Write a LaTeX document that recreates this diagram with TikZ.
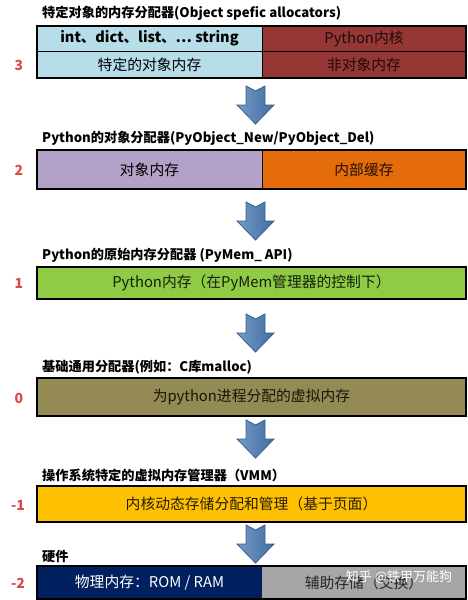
\documentclass[tikz,border=0pt]{standalone}
\usepackage{fontspec}
\setmainfont{Noto Sans CJK SC}
\definecolor{lvlred}{RGB}{222,72,72}
\definecolor{lblue}{RGB}{183,221,232}
\definecolor{dred}{RGB}{149,55,53}
\definecolor{lpurple}{RGB}{179,162,199}
\definecolor{orng}{RGB}{228,108,10}
\definecolor{lgreen}{RGB}{143,203,69}
\definecolor{olive}{RGB}{148,138,84}
\definecolor{amber}{RGB}{255,192,0}
\definecolor{navy}{RGB}{0,32,96}
\definecolor{gry}{RGB}{166,166,166}
\definecolor{arrblue}{RGB}{79,129,189}
\definecolor{arredge}{RGB}{56,93,138}
\begin{document}
\begin{tikzpicture}[x=1pt,y=-1pt,
  title/.style={anchor=west,inner sep=0pt,font=\bfseries\fontsize{13.2}{15}\selectfont},
  cell/.style={inner sep=0pt,font=\fontsize{14.8}{17}\selectfont},
  lvl/.style={inner sep=0pt,text=lvlred,font=\bfseries\fontsize{14}{16}\selectfont},
  frame/.style={draw=black,line width=2pt},
  divider/.style={draw=black,line width=1pt},
  downarrow/.pic={
    \path[left color=arrblue!80!white,right color=arrblue!85!black,draw=arredge,line width=0.8pt,line join=miter]
      (-9.5,0) -- (0,5) -- (9.5,0) -- (9.5,19) -- (18.5,19) -- (0,38) -- (-18.5,19) -- (-9.5,19) -- cycle;
  }]
\useasboundingbox (0,0) rectangle (467,600);

% ---- level 3
\node[title] (t3) at (42,13) {特定对象的内存分配器(Object spefic allocators)};
\fill[lblue] (37,26) rectangle (262,78);
\fill[dred] (262,26) rectangle (466,78);
\draw[divider] (37,51) -- (466,51);
\draw[divider] (262,26) -- (262,78);
\draw[frame] (37,26) rectangle (466,78);
\node[cell,font=\bfseries\fontsize{14.5}{17}\selectfont] (c3a) at (149.5,38.5) {int、dict、list、… string};
\node[cell] (c3b) at (149.5,64.5) {特定的对象内存};
\node[cell,text=black!80!dred] (c3c) at (364,38.5) {Python内核};
\node[cell,text=black!80!dred] (c3d) at (364,64.5) {非对象内存};
\node[lvl] (l3) at (19,65) {3};
\pic (a1) at (255.5,86) {downarrow};

% ---- level 2
\node[title] (t2) at (42,138.5) {Python的对象分配器(PyObject\_New/PyObject\_Del)};
\fill[lpurple] (37,150) rectangle (262,189);
\fill[orng] (262,150) rectangle (466,189);
\draw[divider] (262,150) -- (262,189);
\draw[frame] (37,150) rectangle (466,189);
\node[cell] (c2a) at (149.5,169.5) {对象内存};
\node[cell,text=black!85!orng] (c2b) at (364,169.5) {内部缓存};
\node[lvl] (l2) at (19,170) {2};
\pic (a2) at (255.5,202) {downarrow};

% ---- level 1
\node[title] (t1) at (42,255) {Python的原始内存分配器 (PyMem\_ API)};
\fill[lgreen] (37,267) rectangle (466,299);
\draw[frame] (37,267) rectangle (466,299);
\node[cell,text=black!85!lgreen] (c1) at (251.5,283) {Python内存（在PyMem管理器的控制下）};
\node[lvl] (l1) at (19,283) {1};
\pic (a3) at (255.5,314) {downarrow};

% ---- level 0
\node[title] (t0) at (42,367) {基础通用分配器(例如：C库malloc)};
\fill[olive] (37,378) rectangle (466,416);
\draw[frame] (37,378) rectangle (466,416);
\node[cell,text=black!85!olive] (c0) at (251.5,397) {为python进程分配的虚拟内存};
\node[lvl] (l0) at (19,398) {0};
\pic (a4) at (255.5,420) {downarrow};

% ---- level -1
\node[title] (tm1) at (42,475) {操作系统特定的虚拟内存管理器（VMM）};
\fill[amber] (37,486) rectangle (466,522);
\draw[frame] (37,486) rectangle (466,522);
\node[cell,text=black!85!amber] (cm1) at (251.5,504) {内核动态存储分配和管理（基于页面）};
\node[lvl] (lm1) at (18,505) {-1};
\pic (a5) at (255.5,525) {downarrow};

% ---- level -2
\node[title] (tm2) at (42,557) {硬件};
\fill[navy] (37,566) rectangle (262,599);
\fill[gry] (262,566) rectangle (466,599);
\draw[frame] (37,566) rectangle (466,599);
\node[cell,text=white] (cm2a) at (149.5,582.5) {物理内存：ROM / RAM};
\node[cell,text=black!85] (cm2b) at (364,582.5) {辅助存储（交换）};
\node[inner sep=0pt,text=white,font=\fontsize{13}{15}\selectfont] (wm) at (399,577) {知乎 @铁甲万能狗};
\node[lvl] (lm2) at (18,583) {-2};
\end{tikzpicture}
\end{document}
